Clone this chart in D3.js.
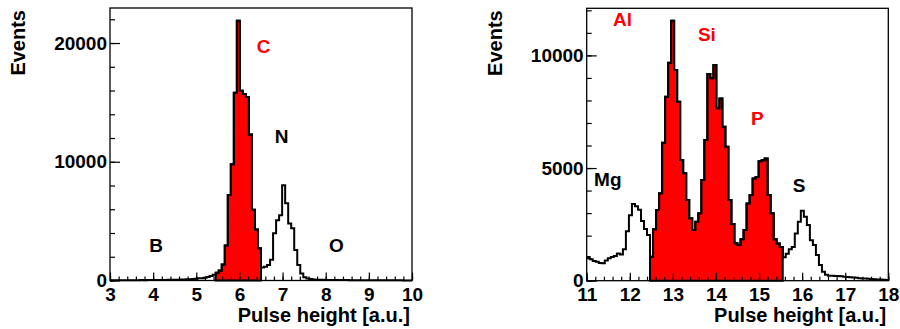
<!DOCTYPE html>
<html>
<head>
<meta charset="utf-8">
<script src="https://cdn.jsdelivr.net/npm/d3@7"></script>
<style>
  html, body { margin: 0; padding: 0; background: #fff; }
  svg text { font-family: "Liberation Sans", Arial, Helvetica, sans-serif; font-weight: bold; }
</style>
</head>
<body>
<div id="chart"></div>
<script>
// ---- data ----
// left histogram: 100 bins from 3 to 10
const leftRange = [3, 10]
const leftCounts = [
  15, 20, 18, 22, 25, 20, 28, 25, 30, 28,
  32, 30, 35, 40, 38, 42, 45, 50, 48, 55,
  60, 65, 70, 75, 85, 95, 110, 130, 150, 180,
  200, 230, 300, 380, 480, 650, 850, 1345, 2940, 7200,
  9800, 15820, 21870, 15990, 15700, 15450, 12300, 5950, 4300, 2720,
  1100, 1150, 1300, 1750, 3970, 5080, 5500, 8020, 6500, 4800,
  4400, 2560, 1300, 600, 280, 160, 120, 90, 70, 60,
  55, 50, 48, 45, 40, 40, 38, 35, 32, 30,
  30, 28, 28, 25, 25, 22, 22, 20, 20, 18,
  18, 16, 15, 15, 14, 12, 12, 10, 10, 8
]
const leftFillBins = [35, 49]   // C window, filled red
const leftYMax = 22950
const leftYMajor = [0, 10000, 20000]
const leftYMinorStep = 2000

// right histogram: 100 bins from 11 to 18
const rightRange = [11, 18]
const rightCounts = [
  1050, 950, 870, 840, 790, 770, 900, 1000, 1050, 1100,
  1210, 1160, 1400, 2200, 2900, 3400, 3300, 3150, 2650, 2300,
  2030, 1060, 2280, 3140, 3880, 6120, 8160, 9670, 11540, 9350,
  7940, 5360, 4770, 3580, 2770, 2250, 2620, 2990, 4470, 6240,
  9170, 8980, 9570, 7650, 8090, 6830, 5950, 3580, 2520, 1660,
  1580, 1840, 2250, 3430, 3800, 4540, 4600, 5300, 5350, 5420,
  3800, 2990, 1840, 1650, 1500, 1040, 1200, 1400, 1500, 2100,
  2620, 3110, 2840, 2470, 1800, 1580, 1140, 700, 400, 260,
  220, 215, 210, 205, 200, 180, 160, 150, 145, 130,
  110, 100, 95, 90, 70, 60, 55, 50, 40, 35
]
const rightFillBins = [21, 64]  // Al..P window, filled red
const rightYMax = 12090
const rightYMajor = [0, 5000, 10000]
const rightYMinorStep = 1000

const xTitle = "Pulse height [a.u.]"
const yTitle = "Events"

// element labels, anchored in data units (x, counts)
const leftLabels = [
  {text: "C", x: 6.56, y: 19130, color: "red"},
  {text: "N", x: 6.98, y: 11560, color: "black"},
  {text: "B", x: 4.07, y: 2400, color: "black"},
  {text: "O", x: 8.25, y: 2400, color: "black"}
]
const rightLabels = [
  {text: "Al", x: 11.83, y: 11300, color: "red"},
  {text: "Si", x: 13.79, y: 10640, color: "red"},
  {text: "P", x: 14.96, y: 6910, color: "red"},
  {text: "Mg", x: 11.49, y: 4200, color: "black"},
  {text: "S", x: 15.93, y: 3940, color: "black"}
]

// ---- drawing ----
const width = 900
const height = 329
const fontSize = 19

const svg = d3.select('#chart').append('svg')
              .attr('width', width)
              .attr('height', height)
              .attr('viewBox', [0, 0, width, height])
              .style('display', 'block')

function histPanel({left, top, w, h, range, counts, fillBins, yMax, yMajor, yMinorStep, labels, titleX}) {
    const g = svg.append('g').attr('transform', `translate(${left},${top})`)

    const x = d3.scaleLinear().domain(range).range([0, w])
    const y = d3.scaleLinear().domain([0, yMax]).range([h, 0])

    const n = counts.length
    const bw = (range[1] - range[0]) / n
    const pts = counts.map((v, i) => [range[0] + i * bw, v])
    pts.push([range[1], counts[n - 1]])

    // red filled window
    const fillPts = d3.range(fillBins[0], fillBins[1] + 1).map(i => [range[0] + i * bw, counts[i]])
    fillPts.push([range[0] + (fillBins[1] + 1) * bw, counts[fillBins[1]]])
    g.append('path')
     .datum(fillPts)
     .attr('fill', '#ff0000')
     .attr('stroke', 'black')
     .attr('stroke-width', 2)
     .attr('d', d3.area().curve(d3.curveStepAfter)
                 .x(d => x(d[0])).y0(y(0)).y1(d => y(d[1])))

    // full histogram outline
    g.append('path')
     .datum(pts)
     .attr('fill', 'none')
     .attr('stroke', 'black')
     .attr('stroke-width', 2)
     .attr('stroke-linejoin', 'miter')
     .attr('d', d3.line().curve(d3.curveStepAfter).x(d => x(d[0])).y(d => y(d[1])))

    // frame
    g.append('rect')
     .attr('x', 0).attr('y', 0)
     .attr('width', w).attr('height', h)
     .attr('fill', 'none')
     .attr('stroke', 'black')
     .attr('stroke-width', 1.3)

    // x axis: majors on integers, minors every 0.2
    const xMajor = d3.range(range[0], range[1] + 0.001, 1)
    const xMinor = d3.range(range[0], range[1] + 0.001, 0.2)
    g.append('g')
     .attr('transform', `translate(0,${h})`)
     .call(d3.axisBottom(x).tickValues(xMinor).tickSize(-4).tickFormat(''))
     .call(a => a.select('.domain').remove())
    g.append('g')
     .attr('transform', `translate(0,${h})`)
     .call(d3.axisBottom(x).tickValues(xMajor).tickSize(-8).tickPadding(7).tickFormat(d3.format('d')))
     .call(a => a.select('.domain').remove())
     .call(a => a.selectAll('text').attr('font-size', fontSize).attr('fill', 'black'))

    // y axis
    const yMinor = d3.range(0, yMax, yMinorStep)
    g.append('g')
     .call(d3.axisLeft(y).tickValues(yMinor).tickSize(-5).tickFormat(''))
     .call(a => a.select('.domain').remove())
    g.append('g')
     .call(d3.axisLeft(y).tickValues(yMajor).tickSize(-10).tickPadding(3).tickFormat(d3.format('d')))
     .call(a => a.select('.domain').remove())
     .call(a => a.selectAll('text').attr('font-size', fontSize).attr('fill', 'black'))

    g.selectAll('.tick line').attr('stroke', 'black').attr('stroke-width', 1.2)

    // titles
    g.append('text')
     .attr('x', w - 2)
     .attr('y', h + 41.5)
     .attr('text-anchor', 'end')
     .attr('font-size', 20)
     .text(xTitle)
    g.append('text')
     .attr('transform', `translate(${titleX},2) rotate(-90)`)
     .attr('text-anchor', 'end')
     .attr('font-size', 20)
     .text(yTitle)

    // element labels
    g.selectAll('.elem')
     .data(labels)
     .join('text')
     .attr('class', 'elem')
     .attr('x', d => x(d.x))
     .attr('y', d => y(d.y))
     .attr('text-anchor', 'middle')
     .attr('font-size', fontSize)
     .attr('fill', d => d.color)
     .text(d => d.text)
}

histPanel({left: 110, top: 8, w: 302, h: 272.5, range: leftRange, counts: leftCounts,
           fillBins: leftFillBins, yMax: leftYMax, yMajor: leftYMajor, yMinorStep: leftYMinorStep,
           labels: leftLabels, titleX: -85})
histPanel({left: 586.7, top: 8.3, w: 301.6, h: 272.4, range: rightRange, counts: rightCounts,
           fillBins: rightFillBins, yMax: rightYMax, yMajor: rightYMajor, yMinorStep: rightYMinorStep,
           labels: rightLabels, titleX: -84.7})
</script>
</body>
</html>
